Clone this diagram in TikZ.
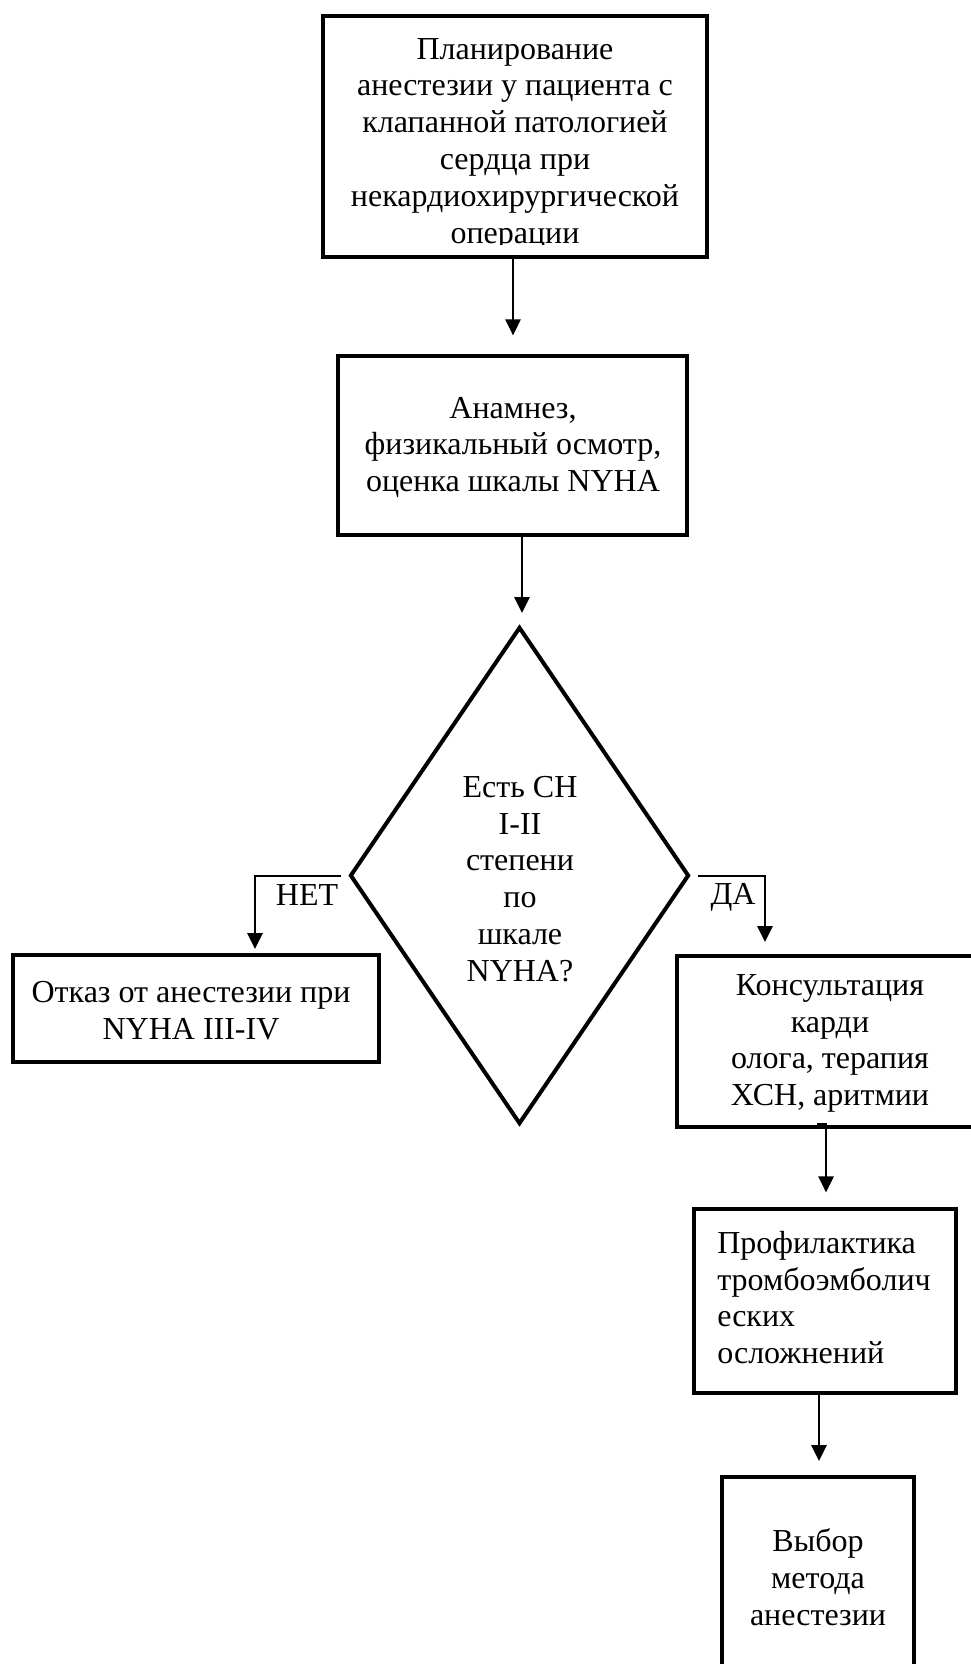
\documentclass[tikz,border=0pt]{standalone}
\usepackage{fontspec}
\setmainfont{Liberation Serif}
\usetikzlibrary{arrows.meta,shapes.geometric}
\begin{document}
\begin{tikzpicture}[x=0.75pt,y=-0.75pt,
  box/.style={draw,line width=3pt,rectangle,inner sep=0pt},
  dia/.style={draw,line width=3pt,diamond,inner sep=0pt},
  txt/.style={font=\fontsize{24}{27.6}\selectfont,align=center,inner sep=0pt},
  lbl/.style={font=\fontsize{24}{27.6}\selectfont,inner sep=0pt,anchor=base},
  arr/.style={line width=1.5pt,-{Triangle[width=11.5pt,length=12pt]}}]
\useasboundingbox (0,0) rectangle (971,1664);

% boxes
\node[box,minimum width=288pt,minimum height=180.75pt] (b1) at (515,136.5) {};
\node[box,minimum width=261.75pt,minimum height=134.25pt] (b2) at (512.5,445.5) {};
\node[dia,minimum width=254.25pt,minimum height=372.75pt] (d) at (519.5,875.5) {};
\node[box,minimum width=274.5pt,minimum height=80.25pt] (b3) at (196,1008.5) {};
\node[box,minimum width=229.5pt,minimum height=128.25pt] (b4) at (830,1041.5) {};
\node[box,minimum width=196.5pt,minimum height=138pt] (b5) at (825,1301) {};
\node[box,minimum width=144pt,minimum height=150pt] (b6) at (818,1577) {};

% texts
\begin{scope}
\clip (323,16) rectangle (707,244);
\node[txt] (t1) at (515,144) {Планирование\\анестезии у пациента с\\клапанной патологией\\сердца при\\некардиохирургической\\операции};
\end{scope}
\node[txt] (t2) at (513,447.5) {Анамнез,\\физикальный осмотр,\\оценка шкалы NYHA};
\node[txt] (td) at (520,879) {Есть СН\\I-II\\степени\\по\\шкале\\NYHA?};
\node[txt] (t3) at (191,1011) {Отказ от анестезии при\\NYHA III-IV};
\node[txt] (t4) at (830,1043.5) {Консультация\\карди\\олога, терапия\\ХСН, аритмии};
\node[txt,align=left,anchor=west] (t5) at (717,1297.5) {Профилактика\\тромбоэмболич\\еских\\осложнений};
\node[txt] (t6) at (818,1577) {Выбор\\метода\\анестезии};

% connectors
\draw[arr,shorten >=14pt] (b1.south -| 513,0) -- (b2.north -| 513,0);
\draw[arr,shorten >=9pt] (b2.south -| 522,0) -- (d.north -| 522,0);

\coordinate (noend) at (255,949);
\draw[arr,shorten <=5pt] (d.west) -| (noend);
\node[lbl] (no) at (307,905) {НЕТ};

\coordinate (yesend) at (765,942);
\draw[arr,shorten <=5pt] (d.east) -| (yesend);
\node[lbl] (yes) at (733,904) {ДА};

\coordinate (c4) at (817,1124);
\draw[arr,shorten >=11pt] (c4) -| (b5.north -| 826,0);
\draw[arr,shorten >=10.5pt] (b5.south -| 819,0) -- (b6.north -| 819,0);
\end{tikzpicture}
\end{document}
